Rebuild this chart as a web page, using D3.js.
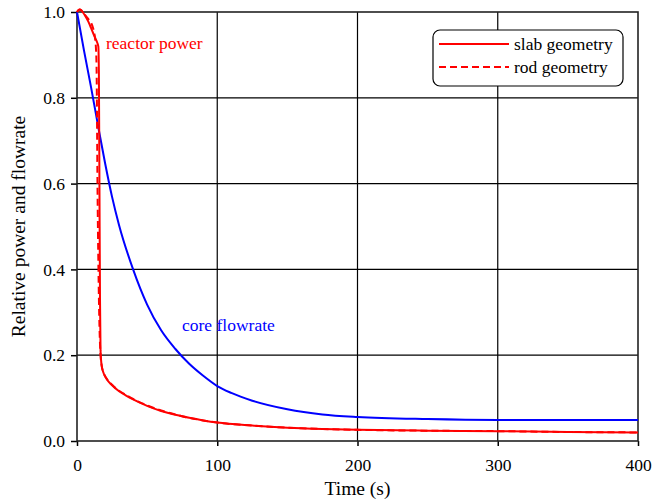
<!DOCTYPE html>
<html lang="en">
  <head>
    <meta charset="UTF-8" />
    <title>Relative power and flowrate</title>
    <script src="https://d3js.org/d3.v7.min.js"></script>
    <style>
      body { margin: 0; background: #fff; }
      svg text { font-family: "Liberation Serif", "Times New Roman", "DejaVu Serif", serif; font-size: 17.5px; }
    </style>
  </head>
  <body>
    <script>
      // values
      const flowTime = [0, 5, 10, 15, 20, 25, 30, 40, 50, 60, 70, 80, 90, 100, 110, 125, 150, 175, 200, 250, 300, 350, 400]
      const coreFlow = [1.0, 0.91, 0.825, 0.735, 0.648, 0.569, 0.503, 0.40, 0.318, 0.258, 0.215, 0.180, 0.152, 0.128, 0.112, 0.094, 0.074, 0.062, 0.056, 0.051, 0.049, 0.049, 0.049]

      const slabTime = [0, 1, 2, 3, 4, 6, 8, 10, 12, 14, 15.2, 15.6, 16.0, 16.4, 16.8, 17.6, 19, 21, 25, 30, 35, 40, 50, 60, 70, 80, 90, 100, 125, 150, 175, 200, 250, 300, 350, 400]
      const slabPower = [1.0, 1.004, 1.006, 1.004, 1.0, 0.99, 0.978, 0.963, 0.947, 0.932, 0.92, 0.86, 0.6, 0.33, 0.21, 0.175, 0.158, 0.145, 0.13, 0.116, 0.106, 0.097, 0.082, 0.070, 0.061, 0.054, 0.048, 0.043, 0.036, 0.031, 0.028, 0.026, 0.024, 0.023, 0.021, 0.020]

      const rodTime = [0, 1, 2, 3, 4, 6, 8, 10, 11.5, 12.8, 13.6, 14.0, 14.6, 15.3, 16.0, 16.6, 17.6, 19, 21, 25, 30, 35, 40, 50, 60, 70, 80, 90, 100, 125, 150, 175, 200, 250, 300, 350, 400]
      const rodPower = [1.0, 1.004, 1.006, 1.004, 1.0, 0.992, 0.984, 0.975, 0.962, 0.94, 0.91, 0.86, 0.6, 0.4, 0.27, 0.21, 0.176, 0.159, 0.146, 0.131, 0.117, 0.107, 0.098, 0.083, 0.071, 0.062, 0.054, 0.048, 0.043, 0.036, 0.031, 0.028, 0.026, 0.024, 0.023, 0.021, 0.020]

      const xTicks = [0, 100, 200, 300, 400]
      const yTicks = [0, 0.2, 0.4, 0.6, 0.8, 1.0]

      let width = 656
      let height = 500
      let margin = { top: 12, right: 18, bottom: 59, left: 77 }

      let svg = d3.select('body').append('svg')
        .attr('width', width)
        .attr('height', height)

      let x = d3.scaleLinear().domain([0, 400]).range([margin.left, width - margin.right])
      let y = d3.scaleLinear().domain([0, 1]).range([height - margin.bottom, margin.top])

      // grid lines
      svg.append('g')
        .selectAll('line')
        .data(xTicks.slice(1, -1))
        .join('line')
        .attr('x1', d => x(d)).attr('x2', d => x(d))
        .attr('y1', y(0)).attr('y2', y(1))
        .attr('stroke', '#000').attr('stroke-width', 1.2)
      svg.append('g')
        .selectAll('line')
        .data(yTicks.slice(1, -1))
        .join('line')
        .attr('y1', d => y(d)).attr('y2', d => y(d))
        .attr('x1', x(0)).attr('x2', x(400))
        .attr('stroke', '#000').attr('stroke-width', 1.2)

      // axes
      let xAxis = svg.append('g')
        .attr('transform', `translate(0,${y(0)})`)
        .call(d3.axisBottom(x).tickValues(xTicks).tickSize(5).tickPadding(13).tickFormat(d3.format('d')))
      let yAxis = svg.append('g')
        .attr('transform', `translate(${x(0)},0)`)
        .call(d3.axisLeft(y).tickValues(yTicks).tickSize(6).tickPadding(6).tickFormat(d3.format('.1f')))
      for (let ax of [xAxis, yAxis]) {
        ax.attr('font-family', null).attr('font-size', null)
        ax.select('.domain').remove()
        ax.selectAll('line').attr('stroke', '#000').attr('stroke-width', 1.5)
        ax.selectAll('text').attr('fill', '#000')
      }

      // plot frame
      svg.append('rect')
        .attr('x', x(0)).attr('y', y(1))
        .attr('width', x(400) - x(0)).attr('height', y(0) - y(1))
        .attr('fill', 'none').attr('stroke', '#222').attr('stroke-width', 1.6)

      let line = d3.line()
        .x(d => x(d[0]))
        .y(d => y(d[1]))
        .curve(d3.curveMonotoneX)

      svg.append('path')
        .datum(d3.zip(flowTime, coreFlow))
        .attr('d', line)
        .attr('fill', 'none').attr('stroke', '#0000ff').attr('stroke-width', 2)
      svg.append('path')
        .datum(d3.zip(slabTime, slabPower))
        .attr('d', line)
        .attr('fill', 'none').attr('stroke', '#ff0000').attr('stroke-width', 2)
      svg.append('path')
        .datum(d3.zip(rodTime, rodPower))
        .attr('d', line)
        .attr('fill', 'none').attr('stroke', '#ff0000').attr('stroke-width', 2)
        .attr('stroke-dasharray', '7,4')

      // curve labels
      svg.append('text').attr('x', 106).attr('y', 49).attr('fill', '#ff0000').text('reactor power')
      svg.append('text').attr('x', 182).attr('y', 331).attr('fill', '#0000ff').text('core flowrate')

      // axis titles
      svg.append('text')
        .attr('x', (x(0) + x(400)) / 2).attr('y', 495)
        .attr('text-anchor', 'middle').style('font-size', '19.5px').text('Time (s)')
      svg.append('text')
        .attr('transform', `translate(25,${(y(0) + y(1)) / 2}) rotate(-90)`)
        .attr('text-anchor', 'middle').style('font-size', '19.5px').text('Relative power and flowrate')

      // legend
      let legend = svg.append('g').attr('transform', 'translate(433,30)')
      legend.append('rect')
        .attr('width', 190).attr('height', 56).attr('rx', 7)
        .attr('fill', '#fff').attr('stroke', '#000').attr('stroke-width', 1.2)
      let items = [['slab geometry', null], ['rod geometry', '7,4']]
      items.forEach((it, i) => {
        legend.append('line')
          .attr('x1', 6).attr('x2', 76)
          .attr('y1', 14 + i * 23).attr('y2', 14 + i * 23)
          .attr('stroke', '#ff0000').attr('stroke-width', 2)
          .attr('stroke-dasharray', it[1])
        legend.append('text').attr('x', 81).attr('y', 20 + i * 23).text(it[0])
      })
    </script>
  </body>
</html>
